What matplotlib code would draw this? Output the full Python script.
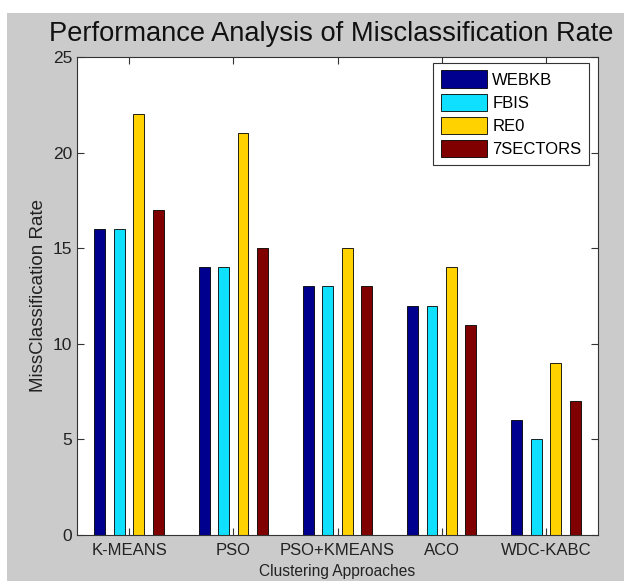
import numpy as np
import matplotlib.pyplot as plt
from matplotlib.patches import Rectangle

plt.rcParams['font.family'] = ['Liberation Sans', 'DejaVu Sans']

# data
approaches = ["K-MEANS", "PSO", "PSO+KMEANS", "ACO", "WDC-KABC"]
datasets = ["WEBKB", "FBIS", "RE0", "7SECTORS"]
webkb = [16, 14, 13, 12, 6]
fbis = [16, 14, 13, 12, 5]
re0 = [22, 21, 15, 14, 9]
sectors = [17, 15, 13, 11, 7]
colors = ["#00008F", "#10E0FF", "#FFD200", "#800000"]

fig = plt.figure(figsize=(6.24, 5.81), dpi=100)
fig.patch.set_facecolor("white")
# gray MATLAB-like figure area (white strip top and left)
fig.patches.append(Rectangle((7 / 624, 0), 1, 1 - 13 / 581, transform=fig.transFigure,
                             facecolor="#CBCBCB", edgecolor="none", zorder=-10))

ax = fig.add_axes([77 / 624, 46 / 581, 521 / 624, 478 / 581])
ax.set_facecolor("white")

x = np.arange(1, len(approaches) + 1)
offsets = [-0.28, -0.093, 0.093, 0.28]
series = [webkb, fbis, re0, sectors]
for vals, off, c, name in zip(series, offsets, colors, datasets):
    ax.bar(x + off, vals, width=0.105, color=c, edgecolor="black", linewidth=0.6, label=name)

ax.set_xlim(0.5, 5.5)
ax.set_ylim(0, 25)
ax.set_xticks(x)
ax.set_xticklabels(approaches, fontsize=12)
ax.set_yticks([0, 5, 10, 15, 20, 25])
ax.tick_params(axis="y", labelsize=12.5)
ax.tick_params(axis="x", pad=6)
ax.tick_params(direction="in", length=5, width=0.8, top=True, right=True, colors="#333333",
               labelcolor="#222222")
for s in ax.spines.values():
    s.set_color("#333333")
    s.set_linewidth(0.8)

ax.set_xlabel("Clustering Approaches", fontsize=11.2, labelpad=4, color="#222222")
ax.set_ylabel("MissClassification Rate", fontsize=13.5, labelpad=4, color="#222222")
fig.text(0.531, 0.93, "Performance Analysis of Misclassification Rate", ha="center",
         fontsize=19.6, color="#111111")

leg = ax.legend(loc="upper right", bbox_to_anchor=(0.9825, 0.9875), fontsize=12,
                fancybox=False, framealpha=1, edgecolor="#333333",
                handlelength=2.8, handleheight=1.2, handletextpad=0.3,
                labelspacing=0.36, borderpad=0.45, borderaxespad=0)
leg.get_frame().set_linewidth(0.8)

plt.savefig("out.png", dpi=100, facecolor=fig.get_facecolor())
